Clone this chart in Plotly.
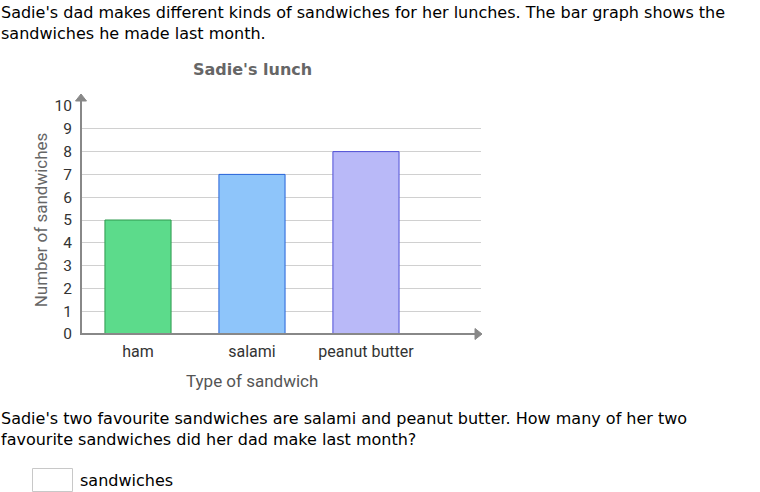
import plotly.graph_objects as go

categories = ["ham", "salami", "peanut butter"]
values = [5, 7, 8]
fills = ["#5cdb8b", "#8ec5fa", "#b9b9f8"]
outlines = ["#2f9a4e", "#2563d9", "#4f4fd6"]
y_ticks = list(range(0, 11))

W, H = 760, 492
L, R, T, B = 81, 481, 106, 334


def px(x):
    return (x - L) / (R - L)


def py(y):
    return (B - y) / (B - T)


fig = go.Figure()
fig.add_trace(go.Bar(
    x=categories, y=values,
    marker=dict(color=fills, line=dict(color=outlines, width=1)),
    hoverinfo="skip",
))

TXT = "DejaVu Sans, Verdana, sans-serif"
CH = "Roboto, sans-serif"

ann = []


def text(x, y, s, size=16, color="#000", family=TXT, xanchor="left", **kw):
    ann.append(dict(x=px(x), y=py(y), xref="paper", yref="paper", text=s,
                    showarrow=False, xanchor=xanchor, yanchor="middle",
                    font=dict(family=family, size=size, color=color), **kw))


text(-1, 13, "Sadie's dad makes different kinds of sandwiches for her lunches. The bar graph shows the")
text(-1, 33, "sandwiches he made last month.")
text(252, 70, "<b>Sadie's lunch</b>", size=16, color="#666", family=TXT, xanchor="center")
text(252, 381, "Type of sandwich", size=17, color="#555", family=CH, xanchor="center")
text(-1, 418, "Sadie's two favourite sandwiches are salami and peanut butter. How many of her two")
text(-1, 439, "favourite sandwiches did her dad make last month?")
text(78, 480, "sandwiches")

shapes = [
    # answer box
    dict(type="rect", xref="paper", yref="paper", x0=px(32.5), x1=px(72.5), y0=py(468.5), y1=py(491.5),
         line=dict(color="#c8c8c8", width=1), fillcolor="white"),
    # y axis line
    dict(type="line", xref="paper", yref="paper", x0=px(81), x1=px(81), y0=py(335), y1=py(100),
         line=dict(color="#888", width=2)),
    # x axis line
    dict(type="line", xref="paper", yref="paper", x0=px(80), x1=px(476), y0=py(334), y1=py(334),
         line=dict(color="#888", width=2)),
    # arrow heads
    dict(type="path", xref="paper", yref="paper",
         path=f"M {px(75.5)} {py(101)} L {px(81)} {py(94)} L {px(86.5)} {py(101)} Z",
         fillcolor="#888", line=dict(color="#888", width=1)),
    dict(type="path", xref="paper", yref="paper",
         path=f"M {px(475)} {py(328.5)} L {px(482)} {py(334)} L {px(475)} {py(339.5)} Z",
         fillcolor="#888", line=dict(color="#888", width=1)),
]

fig.update_layout(
    width=W, height=H,
    margin=dict(l=L, r=W - R, t=T, b=H - B, pad=0),
    paper_bgcolor="white", plot_bgcolor="white",
    showlegend=False, bargap=0.42,
    annotations=ann, shapes=shapes,
    xaxis=dict(range=[-0.5, 3.009], showgrid=False, zeroline=False, showline=False,
               ticks="", ticklabelstandoff=6,
               tickfont=dict(family=CH, size=16, color="#333"), fixedrange=True),
    yaxis=dict(range=[0, 10], tickvals=y_ticks, showgrid=True, gridcolor="#d0d0d0", gridwidth=1,
               zeroline=False, showline=False, ticks="", ticklabelstandoff=8,
               tickfont=dict(family=CH, size=15.5, color="#333"),
               title=dict(text="Number of sandwiches", font=dict(family=CH, size=17, color="#666"), standoff=2),
               fixedrange=True),
)

fig.write_html("out.html", config={"displayModeBar": False},
               post_script="document.body.style.margin='0';document.body.style.padding='0';")
